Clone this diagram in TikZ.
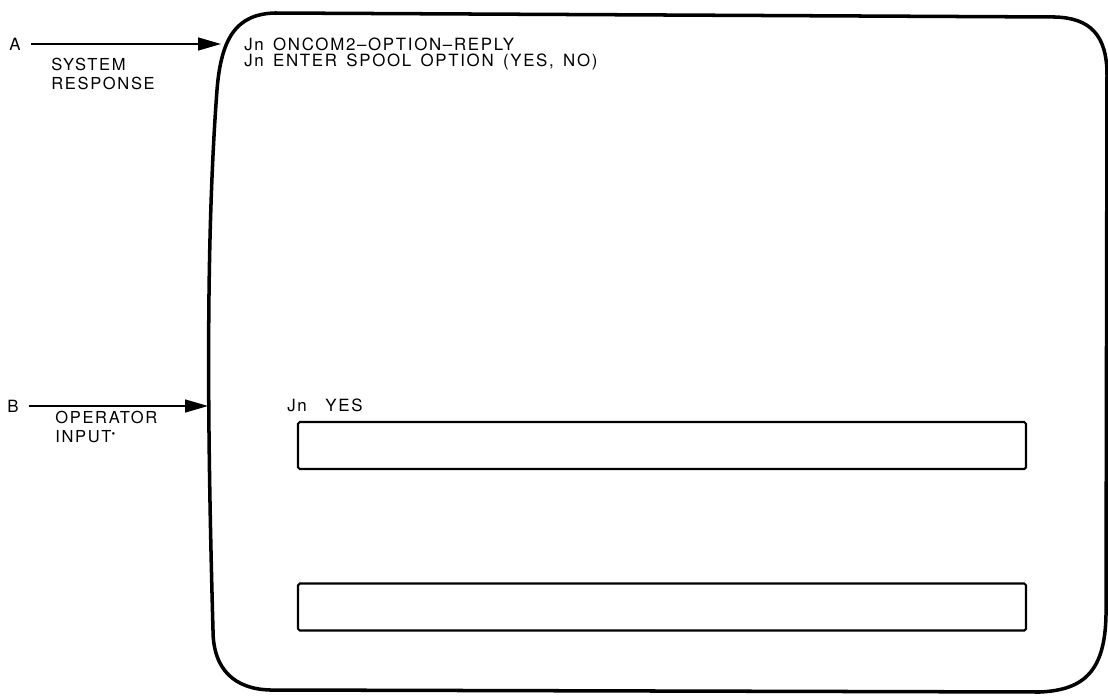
\documentclass[tikz,border=0pt]{standalone}
\usepackage{fontspec}
\setmainfont{TeX Gyre Heros}
\newfontfamily\scrfont[LetterSpace=10]{TeX Gyre Heros}
\newfontfamily\lblfont[LetterSpace=10]{TeX Gyre Heros}
\newcommand{\scrtxt}{\scrfont\fontsize{9.6}{10}\selectfont\spaceskip=5.3pt\relax}
\usetikzlibrary{arrows.meta}

\begin{document}
\begin{tikzpicture}[x=0.2mm,y=-0.2mm,txt/.style={anchor=west,inner sep=0pt,font=\scrtxt},lbl/.style={anchor=west,inner sep=0pt,align=left,font=\lblfont\fontsize{9.4}{10.6}\selectfont},arr/.style={line width=0.8pt,-{Triangle[length=4.6mm,width=2.6mm]}},inbox/.style={draw,line width=1.2pt,rounded corners=1pt,minimum width=145.6mm,minimum height=9.4mm,inner sep=0pt}]
\useasboundingbox (0,0) rectangle (1108,698);
% screen outline
\draw[line width=2pt] (275,13) -- (1055,17) .. controls (1090,18) and (1107,35) .. (1107,75) -- (1106,615) .. controls (1105,670) and (1085,690) .. (1040,692) -- (270,690) .. controls (235,689) and (213,670) .. (213,630) .. controls (208,450) and (205,250) .. (217,90) .. controls (221,40) and (235,14) .. (275,13) -- cycle;
\coordinate (ea) at (221,44);
\coordinate (eb) at (208,406);
\node[txt] (a) at (9,44) {A};
\node[txt] (b) at (7,406) {B};
\draw[arr] (a.east) ++(10,0) coordinate (sa) (sa) -- (ea);
\draw[arr] (b.east) ++(10,0) coordinate (sb) (sb) -- (eb);
\node[lbl] (sys) at (51,74) {SYSTEM\\RESPONSE};
\node[lbl] (op) at (55,427) {OPERATOR\\INPUT{\fontsize{6}{6}\selectfont\raisebox{0.9ex}{\textbullet}}};
\node[txt] (l1) at (244,44) {Jn ONCOM2\textendash OPTION\textendash REPLY};
\node[txt] (l2) at (244,62) {Jn ENTER SPOOL OPTION (YES, NO)};
\node[txt] (l3) at (287,405) {Jn\ \ YES};
\node[inbox] (f1) at (662,445.5) {};
\node[inbox] (f2) at (662,607) {};
\end{tikzpicture}
\end{document}
